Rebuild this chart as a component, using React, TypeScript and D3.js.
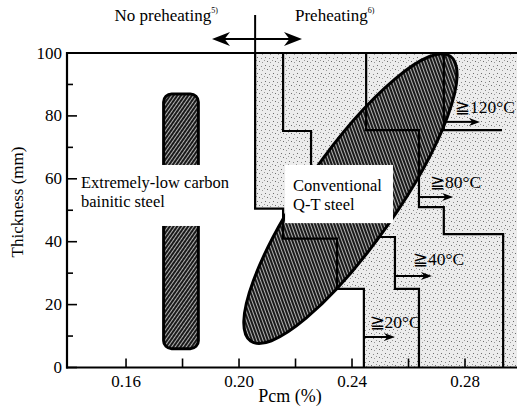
import React from 'react';
import * as d3 from 'd3';

const W = 517;
const H = 418;

// axes
const pcmTicks = [0.16, 0.2, 0.24, 0.28];
const pcmMinorTicks = [0.18, 0.22, 0.26, 0.3];
const thickTicks = [0, 20, 40, 60, 80, 100];
const thickMinorTicks = [10, 30, 50, 70, 90];

// preheating boundaries, [Pcm (%), thickness (mm)]
const line20: [number, number][] = [[0.2057, 100], [0.2057, 50.5], [0.2156, 50.5], [0.2156, 41], [0.2347, 41], [0.2347, 25], [0.2442, 25], [0.2442, 0]];
const line40: [number, number][] = [[0.2156, 100], [0.2156, 75.2], [0.2255, 75.2], [0.2255, 53], [0.2457, 53], [0.2457, 41.5], [0.2552, 41.5], [0.2552, 25], [0.2637, 25], [0.2637, 0]];
const line80: [number, number][] = [[0.245, 100], [0.245, 75.5], [0.2637, 75.5], [0.2637, 51], [0.2725, 51], [0.2725, 42.4], [0.2935, 42.4], [0.2935, 0]];
const line120: [number, number][] = [[0.2725, 100], [0.2725, 75.5], [0.2931, 75.5]];

const tempLabels = ['≧20°C', '≧40°C', '≧80°C', '≧120°C'];
const tempArrowFrom: [number, number][] = [[0.2442, 9.7], [0.2552, 29.1], [0.2637, 54.2], [0.2725, 78.1]];
const tempArrowTo = [0.2552, 0.2683, 0.2758, 0.2853];
const tempLabelAt: [number, number][] = [[0.2462, 12.6], [0.2616, 32.6], [0.2676, 57.1], [0.2765, 80.9]];

// steel regions
const bainiticPcm = [0.1733, 0.1856];
const bainiticThick = [6, 87];
const qtTips: [number, number][] = [[0.2041, 8.4], [0.2748, 99.0]];
const qtHalfWidth = 0.0162;

const preheatDivide = 0.2057;

const x = d3.scaleLinear().domain([0.1391, 0.3]).range([67, 521.5]);
const y = d3.scaleLinear().domain([0, 100]).range([367.5, 53]);

const serif = '"Liberation Serif", "DejaVu Serif", serif';

const lineGen = d3.line<[number, number]>().x(d => x(d[0])).y(d => y(d[1]));

function head(tx: number, ty: number, dir: number, len: number, half: number) {
  // dir: 1 = pointing right, -1 = pointing left
  return `M${tx},${ty}L${tx - dir * len},${ty - half}L${tx - dir * len * 0.7},${ty}L${tx - dir * len},${ty + half}Z`;
}

const App = () => {
  const x0 = x.range()[0];
  const yTop = y(100);
  const yBot = y(0);

  const region: [number, number][] = [...line20, [0.3, 0], [0.3, 100]];

  const p1 = [x(qtTips[0][0]), y(qtTips[0][1])];
  const p2 = [x(qtTips[1][0]), y(qtTips[1][1])];
  const ecx = (p1[0] + p2[0]) / 2;
  const ecy = (p1[1] + p2[1]) / 2;
  const ea = Math.hypot(p2[0] - p1[0], p2[1] - p1[1]) / 2;
  const eb = x(0.2 + qtHalfWidth) - x(0.2);
  const eang = (Math.atan2(p2[1] - p1[1], p2[0] - p1[0]) * 180) / Math.PI;

  const divX = x(preheatDivide);

  return (
    <svg width={W} height={H} style={{ display: 'block', position: 'absolute', left: 0, top: 0, background: '#fff' }} fontFamily={serif}>
      <defs>
        <pattern id="stip" width="8" height="8" patternUnits="userSpaceOnUse">
          <rect width="8" height="8" fill="#ececec" />
          <rect x="1" y="1" width="1" height="1" fill="#6d6d6d" />
          <rect x="5" y="2" width="1" height="1" fill="#8a8a8a" />
          <rect x="3" y="5" width="1" height="1" fill="#6d6d6d" />
          <rect x="6" y="6" width="1" height="1" fill="#999" />
          <rect x="0" y="4" width="1" height="1" fill="#9a9a9a" />
        </pattern>
        <pattern id="hatch" width="3" height="3" patternUnits="userSpaceOnUse" patternTransform="rotate(35)">
          <rect width="3" height="3" fill="#1a1a1a" />
          <rect x="0" y="0" width="0.9" height="3" fill="#c4c4c4" />
        </pattern>
      </defs>

      <rect x={0} y={0} width={W} height={H} fill="#fff" />

      {/* preheating zone */}
      <path d={lineGen(region) + 'Z'} fill="url(#stip)" />
      <path d={lineGen(line40) ?? ''} fill="none" stroke="#000" strokeWidth={2.2} />

      {/* extremely-low carbon bainitic steel */}
      <rect
        x={x(bainiticPcm[0])}
        y={y(bainiticThick[1])}
        width={x(bainiticPcm[1]) - x(bainiticPcm[0])}
        height={y(bainiticThick[0]) - y(bainiticThick[1])}
        rx={8}
        fill="url(#hatch)"
        stroke="#000"
        strokeWidth={3}
      />

      {/* conventional Q-T steel */}
      <ellipse
        cx={ecx}
        cy={ecy}
        rx={ea}
        ry={eb}
        transform={`rotate(${eang},${ecx},${ecy})`}
        fill="url(#hatch)"
        stroke="#000"
        strokeWidth={3}
      />

      {[line20, line80, line120].map((l, i) => (
        <path key={i} d={lineGen(l) ?? ''} fill="none" stroke="#000" strokeWidth={2.2} />
      ))}

      {/* temperature arrows */}
      {tempLabels.map((t, i) => {
        const ax = x(tempArrowFrom[i][0]);
        const ay = y(tempArrowFrom[i][1]);
        const bx = x(tempArrowTo[i]);
        return (
          <g key={t}>
            <line x1={ax} y1={ay} x2={bx - 6} y2={ay} stroke="#000" strokeWidth={2} />
            <path d={head(bx, ay, 1, 11, 4)} fill="#000" />
            <text x={x(tempLabelAt[i][0])} y={y(tempLabelAt[i][1])} fontSize={17.5} fill="#000">{t}</text>
          </g>
        );
      })}

      {/* label boxes */}
      <rect x={x(0.143)} y={y(64.4)} width={x(0.2025) - x(0.143)} height={y(45) - y(64.4)} fill="#fff" />
      <text x={81} y={188} fontSize={16.5}>Extremely-low carbon</text>
      <text x={81} y={207} fontSize={16.5}>bainitic steel</text>

      <rect x={x(0.2163)} y={y(64.4)} width={x(0.2545) - x(0.2163)} height={y(45.9) - y(64.4)} fill="#fff" />
      <text x={293} y={191} fontSize={16.5}>Conventional</text>
      <text x={293} y={210} fontSize={16.5}>Q-T steel</text>

      {/* frame */}
      <line x1={x0} y1={yTop} x2={W} y2={yTop} stroke="#000" strokeWidth={2} />
      <line x1={x0} y1={yTop - 1} x2={x0} y2={yBot + 1} stroke="#000" strokeWidth={2.2} />
      <line x1={x0 - 1} y1={yBot} x2={W} y2={yBot} stroke="#000" strokeWidth={2.2} />

      {/* y ticks */}
      {thickTicks.map(t => (
        <g key={t}>
          <line x1={x0} y1={y(t)} x2={x0 + 10} y2={y(t)} stroke="#000" strokeWidth={1.6} />
          <text x={x0 - 5} y={y(t) + 5.5} textAnchor="end" fontSize={17}>{t}</text>
        </g>
      ))}
      {thickMinorTicks.map(t => (
        <line key={t} x1={x0} y1={y(t)} x2={x0 + 6} y2={y(t)} stroke="#000" strokeWidth={1.6} />
      ))}

      {/* x ticks */}
      {pcmTicks.map(p => (
        <g key={p}>
          <line x1={x(p)} y1={yBot} x2={x(p)} y2={yBot - 9} stroke="#000" strokeWidth={1.6} />
          <text x={x(p)} y={yBot + 19} textAnchor="middle" fontSize={17}>{d3.format('.2f')(p)}</text>
        </g>
      ))}
      {pcmMinorTicks.map(p => (
        <line key={p} x1={x(p)} y1={yBot} x2={x(p)} y2={yBot - 9} stroke="#000" strokeWidth={1.6} />
      ))}

      {/* axis titles */}
      <text transform="translate(23,202) rotate(-90)" textAnchor="middle" fontSize={17}>Thickness (mm)</text>
      <text x={290} y={402} textAnchor="middle" fontSize={18}>Pcm (%)</text>

      {/* top annotation */}
      <line x1={divX} y1={15} x2={divX} y2={yTop} stroke="#000" strokeWidth={2} />
      <line x1={212 + 12} y1={39} x2={302 - 12} y2={39} stroke="#000" strokeWidth={2} />
      <path d={head(212, 39, -1, 18, 7)} fill="#000" />
      <path d={head(302, 39, 1, 18, 7)} fill="#000" />
      <text x={218} y={21} textAnchor="end" fontSize={17}>
        No preheating<tspan dy={-8} fontSize={8}>5)</tspan>
      </text>
      <text x={295} y={21} fontSize={17}>
        Preheating<tspan dy={-8} fontSize={8}>6)</tspan>
      </text>
    </svg>
  );
};

export default App;
